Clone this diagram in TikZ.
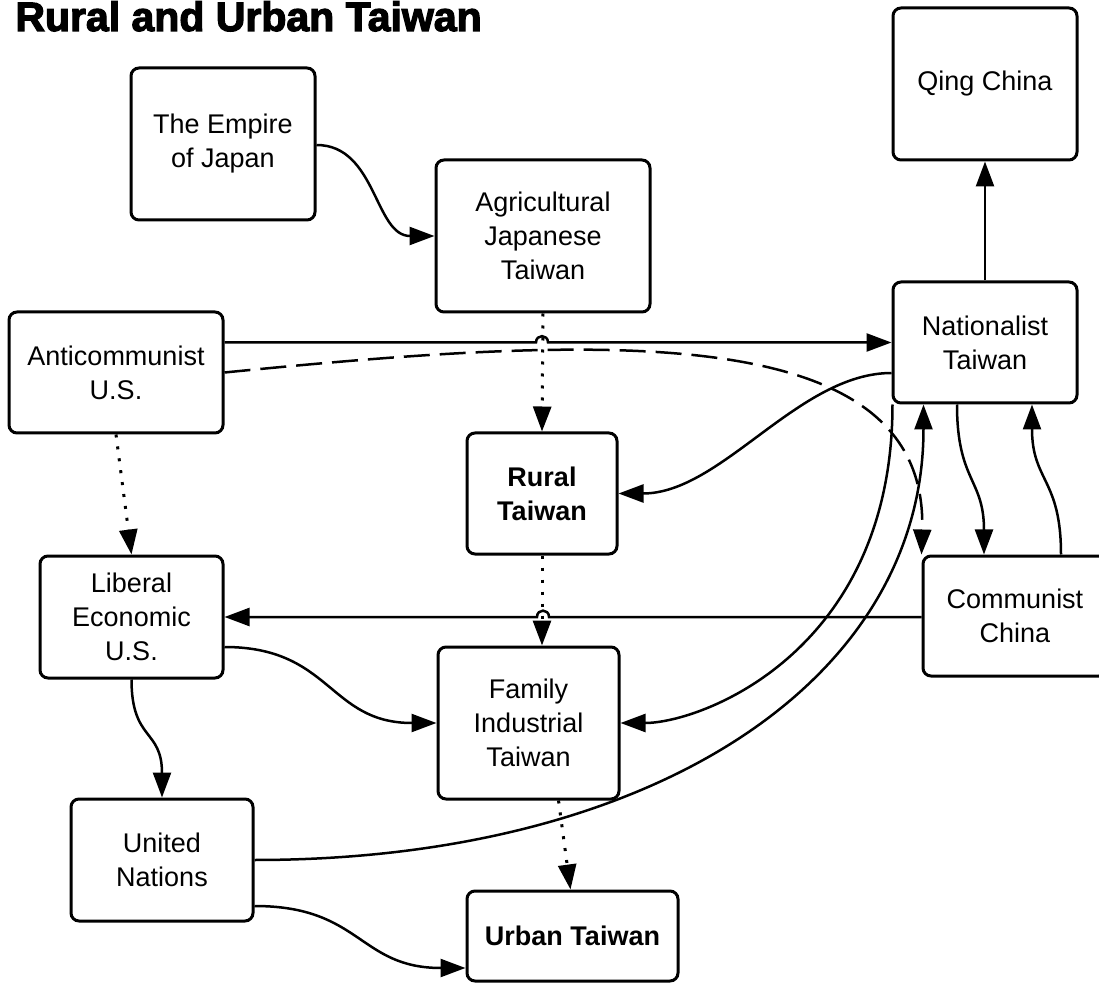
\documentclass[tikz,border=0pt]{standalone}
\usepackage{fontspec}
\setmainfont{Liberation Sans}
\newfontfamily\titlefont[FakeBold=3]{Liberation Sans}
\usetikzlibrary{arrows.meta,calc}
\begin{document}
\begin{tikzpicture}[x=0.5pt,y=-0.5pt,
  box/.style={draw,line width=1.5pt,rounded corners=4pt,align=center,inner sep=0pt,
    font=\fontsize{13.5}{17}\selectfont},
  conn/.style={line width=1.25pt,-{Triangle[length=12.5pt,width=9pt]}},
  dotline/.style={conn,line width=1.5pt,dash pattern=on 1.5pt off 4.5pt},
  dashline/.style={conn,dash pattern=on 13pt off 5pt}]
\clip (0,0) rectangle (1099,984);
\fill[white] (0,0) rectangle (1099,984);

\node[anchor=base west,inner sep=0pt,font=\titlefont\bfseries\fontsize{20.5}{24}\selectfont] (title) at (15,31) {Rural and Urban Taiwan};

\node[box,minimum width=92pt,minimum height=76pt] (emp) at (223,144) {The Empire\\of Japan};
\node[box,minimum width=107pt,minimum height=76pt] (agr) at (543,236) {Agricultural\\Japanese\\Taiwan};
\node[box,minimum width=92pt,minimum height=76pt] (qing) at (985,84) {Qing China};
\node[box,minimum width=92pt,minimum height=60.5pt] (nat) at (985,342.5) {Nationalist\\Taiwan};
\node[box,minimum width=107pt,minimum height=60.5pt] (anti) at (116,372.5) {Anticommunist\\U.S.};
\node[box,minimum width=75pt,minimum height=60.5pt,font=\fontsize{13.5}{17}\selectfont\bfseries] (rural) at (542,493.5) {Rural\\Taiwan};
\node[box,minimum width=91.5pt,minimum height=61pt] (lib) at (131.5,617) {Liberal\\Economic\\U.S.};
\node[box,minimum width=92pt,minimum height=60pt] (comm) at (1015,616) {Communist\\China};
\node[box,minimum width=90.5pt,minimum height=76pt] (fam) at (528.5,723) {Family\\Industrial\\Taiwan};
\node[box,minimum width=91pt,minimum height=61pt] (un) at (162,860) {United\\Nations};
\node[box,minimum width=105.5pt,minimum height=45pt,font=\fontsize{13.5}{17}\selectfont\bfseries] (urban) at (572.5,936) {Urban Taiwan};

% Empire -> Agricultural
\draw[conn] ($(emp.east)+(0,1)$) .. controls +(60,0) and +(-60,0) .. (agr.west);
% Agricultural -> Rural (dotted)
\draw[dotline] (agr.south) -- (rural.north);
% Anticommunist -> Nationalist (with hop)
\draw[conn] (anti.east |- nat.west) -- (536,342.5) .. controls (536,334) and (548,334) .. (548,342.5) -- (nat.west);
% Anticommunist -> Communist China (dashed)
\draw[dashline] (anti.east) .. controls +(377,-37.5) and +(7,-236) .. (comm.north west);
% Nationalist -> Qing
\draw[conn] (nat.north) -- (qing.south);
% Nationalist -> Rural
\draw[conn] ($(nat.west)+(0,30.5)$) .. controls +(-93,0) and +(103,0) .. (rural.east);
% Nationalist -> Family Industrial
\draw[conn] ($(nat.south west)+(1,0)$) .. controls +(0,247) and +(81,0) .. (fam.east);
% United Nations -> Nationalist
\draw[conn] (un.east) .. controls +(397,0) and +(0,277) .. ($(nat.south west)+(32,0)$);
% Nationalist -> Communist
\draw[conn] ($(nat.south)+(-28,0)$) .. controls +(0,77) and +(0,-76) .. ($(comm.north)+(-31,0)$);
% Communist -> Nationalist
\draw[conn] ($(comm.north)+(46,0)$) .. controls +(0,-76) and +(0,77) .. ($(nat.south)+(47,0)$);
% Communist -> Liberal (with hop)
\draw[conn] (comm.west |- lib.east) -- (549,617) .. controls (549,608.5) and (537,608.5) .. (537,617) -- (lib.east);
% Rural -> Family (dotted)
\draw[dotline] (rural.south) -- (rural.south |- fam.north);
% Anticommunist -> Liberal (dotted)
\draw[dotline] (anti.south) -- (lib.north);
% Liberal -> Family
\draw[conn] ($(lib.east)+(0,30)$) .. controls +(107,0) and +(-108,0) .. (fam.west);
% Liberal -> United Nations
\draw[conn] (lib.south) .. controls +(0,62) and +(0,-69) .. (un.north);
% Family -> Urban (dotted)
\draw[dotline] ($(fam.south)+(30,0)$) -- ($(urban.north)+(-2,0)$);
% United Nations -> Urban
\draw[conn] ($(un.east)+(0,46)$) .. controls +(107,0) and +(-107,0) .. ($(urban.west)+(0,32)$);
\end{tikzpicture}
\end{document}
